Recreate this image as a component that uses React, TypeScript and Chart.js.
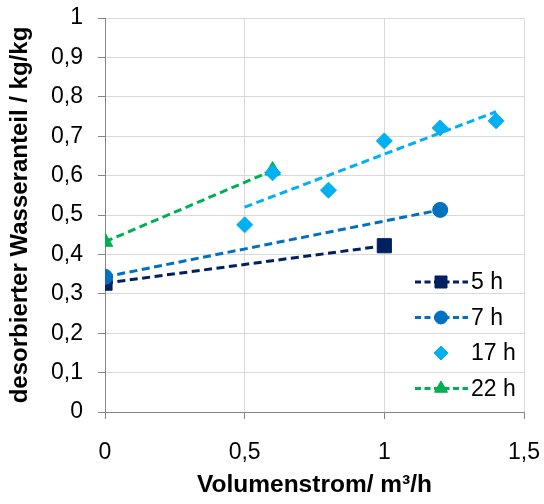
import { useEffect, useRef } from "react";
import { Chart, registerables } from "chart.js";
import { drawPoint } from "chart.js/helpers";

Chart.register(...registerables);

const FONT = "'Liberation Sans', Arial, Helvetica, sans-serif";

// Series names and measured values (Volumenstrom in m³/h, desorbed water fraction in kg/kg)
const seriesLabels = ["5 h", "7 h", "17 h", "22 h"];
const seriesColors = ["#002060", "#0070C0", "#00B0F0", "#00B050"];

const volumen5h = [0, 1];
const wasser5h = [0.327, 0.422];

const volumen7h = [0, 1.2];
const wasser7h = [0.343, 0.513];

const volumen17h = [0.5, 0.6, 0.8, 1.0, 1.2, 1.4];
const wasser17h = [0.475, 0.607, 0.563, 0.688, 0.721, 0.739];

// linear trend through the 17 h measurements
const trend17hX = [0.5, 1.4];
const trend17hY = [0.52, 0.762];

const volumen22h = [0, 0.6];
const wasser22h = [0.432, 0.613];

const xTitle = "Volumenstrom/ m³/h";
const yTitle = "desorbierter Wasseranteil / kg/kg";

const toPoints = (xs: number[], ys: number[]) => xs.map((x, i) => ({ x, y: ys[i] }));
const deNumber = (v: number) => String(Number(v.toFixed(2))).replace(".", ",");

const DASH = [8, 4.5];

// Legend drawn inside the plot area, bottom right
const sideLegend = {
  id: "sideLegend",
  afterDraw(chart: any) {
    const { ctx, chartArea } = chart;
    const entries = chart.data.datasets.filter((d: any) => d.legendEntry);
    ctx.save();
    entries.forEach((d: any, i: number) => {
      const y = chartArea.bottom - 130 + i * 35.5;
      const x0 = chartArea.right - 109;
      const x1 = chartArea.right - 56;
      const mx = chartArea.right - 83;
      if (d.showLine) {
        ctx.beginPath();
        ctx.setLineDash([6, 3.5]);
        ctx.lineWidth = 3;
        ctx.strokeStyle = d.borderColor;
        ctx.moveTo(x0, y);
        ctx.lineTo(x1, y);
        ctx.stroke();
      }
      ctx.setLineDash([]);
      ctx.fillStyle = d.pointBackgroundColor;
      ctx.strokeStyle = d.pointBorderColor;
      ctx.lineWidth = 1;
      drawPoint(
        ctx,
        { pointStyle: d.pointStyle, radius: d.legendRadius, rotation: 0, borderWidth: 1 },
        mx,
        y
      );
      ctx.fillStyle = "#000";
      ctx.font = `23px ${FONT}`;
      ctx.textAlign = "left";
      ctx.textBaseline = "middle";
      ctx.fillText(d.label, chartArea.right - 53, y + 1);
    });
    ctx.restore();
  },
};

function makeSeries(
  label: string,
  color: string,
  data: { x: number; y: number }[],
  pointStyle: string,
  radius: number,
  legendRadius: number,
  order: number,
  showLine: boolean
) {
  return {
    label,
    data,
    showLine,
    legendEntry: true,
    legendRadius,
    borderColor: color,
    borderWidth: 3,
    borderDash: DASH,
    backgroundColor: color,
    pointBackgroundColor: color,
    pointBorderColor: color,
    pointBorderWidth: 1,
    pointStyle,
    pointRadius: radius,
    pointHoverRadius: radius,
    order,
  };
}

export default function App() {
  const canvasRef = useRef<HTMLCanvasElement | null>(null);

  useEffect(() => {
    document.body.style.margin = "0";
    const canvas = canvasRef.current;
    if (!canvas) return;

    const datasets: any[] = [
      makeSeries(seriesLabels[0], seriesColors[0], toPoints(volumen5h, wasser5h), "rect", 10, 8.5, 5, true),
      makeSeries(seriesLabels[1], seriesColors[1], toPoints(volumen7h, wasser7h), "circle", 7.5, 6.5, 3, true),
      makeSeries(seriesLabels[2], seriesColors[2], toPoints(volumen17h, wasser17h), "rectRot", 8, 7, 1, false),
      {
        label: "",
        data: toPoints(trend17hX, trend17hY),
        showLine: true,
        legendEntry: false,
        borderColor: seriesColors[2],
        borderWidth: 3,
        borderDash: DASH,
        pointRadius: 0,
        pointHoverRadius: 0,
        order: 2,
      },
      makeSeries(seriesLabels[3], seriesColors[3], toPoints(volumen22h, wasser22h), "triangle", 9, 7.5, 4, true),
    ];

    const chart = new Chart(canvas, {
      type: "scatter",
      data: { datasets },
      plugins: [sideLegend],
      options: {
        responsive: false,
        animation: false,
        events: [],
        layout: { padding: { top: 18, right: 20, left: 0, bottom: 0 } },
        plugins: {
          legend: { display: false },
          tooltip: { enabled: false },
        },
        scales: {
          x: {
            type: "linear",
            min: 0,
            max: 1.5,
            afterFit: (scale: any) => {
              scale.height = 92;
              scale.paddingLeft = 0;
              scale.paddingRight = 0;
            },
            ticks: {
              stepSize: 0.5,
              color: "#000",
              padding: 20,
              font: { family: FONT, size: 23 },
              callback: (v: any) => deNumber(Number(v)),
            },
            grid: { color: "#D9D9D9", lineWidth: 1, tickLength: 7, tickColor: "#868686" },
            border: { color: "#868686", width: 1 },
            title: {
              display: true,
              text: xTitle,
              color: "#000",
              font: { family: FONT, size: 24.5, weight: "bold" },
              padding: { top: 0, bottom: 4 },
            },
          },
          y: {
            type: "linear",
            min: 0,
            max: 1,
            afterFit: (scale: any) => {
              scale.width = 105;
              scale.paddingTop = 0;
              scale.paddingBottom = 0;
            },
            ticks: {
              stepSize: 0.1,
              color: "#000",
              padding: 15,
              font: { family: FONT, size: 23 },
              callback: (v: any) => deNumber(Number(v)),
            },
            grid: { color: "#D9D9D9", lineWidth: 1, tickLength: 7, tickColor: "#868686" },
            border: { color: "#868686", width: 1 },
            title: {
              display: true,
              text: yTitle,
              color: "#000",
              font: { family: FONT, size: 24, weight: "bold" },
              padding: { top: 6, bottom: 0 },
            },
          },
        },
      } as any,
    });

    return () => chart.destroy();
  }, []);

  return (
    <div style={{ width: 544, height: 504, background: "#fff" }}>
      <canvas ref={canvasRef} width={544} height={504} style={{ display: "block" }} />
    </div>
  );
}
